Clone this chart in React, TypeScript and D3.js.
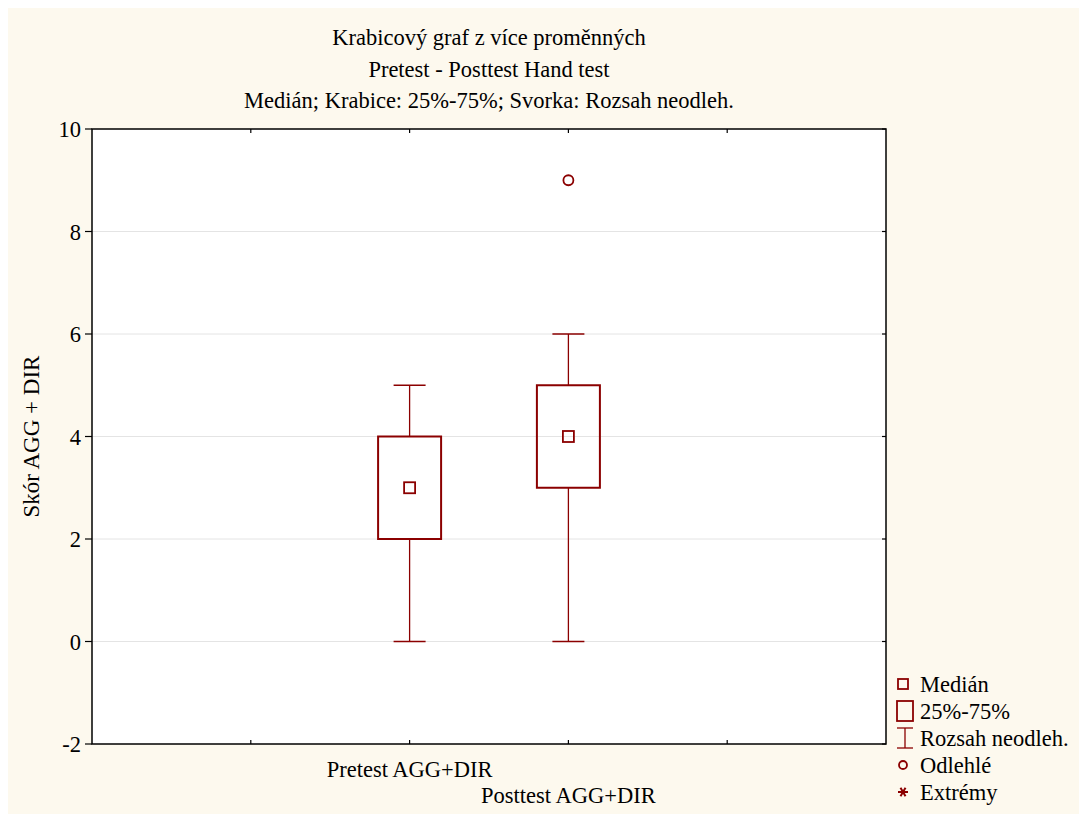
import React, { useEffect, useRef } from 'react';
import * as d3 from 'd3';

// chart data
const titleLines = [
  'Krabicový graf z více proměnných',
  'Pretest - Posttest Hand test',
  'Medián; Krabice: 25%-75%; Svorka: Rozsah neodleh.',
];
const categories = ['Pretest AGG+DIR', 'Posttest AGG+DIR'];
const medians = [3, 4];
const q1 = [2, 3];
const q3 = [4, 5];
const whiskerLow = [0, 0];
const whiskerHigh = [5, 6];
const outliers = [[], [9]] as number[][];
const yTicks = [-2, 0, 2, 4, 6, 8, 10];
const legendLabels = ['Medián', '25%-75%', 'Rozsah neodleh.', 'Odlehlé', 'Extrémy'];

const W = 1079;
const H = 806;
const RED = '#8b0000';
const FONT = '"Liberation Serif", "Times New Roman", serif';
const FS = '22.5px';

const App: React.FC = () => {
  const svgRef = useRef<SVGSVGElement>(null);

  useEffect(() => {
    if (!svgRef.current) return;
    const svg = d3.select(svgRef.current);
    svg.selectAll('*').remove();

    svg.append('rect').attr('width', W).attr('height', H).attr('fill', '#fdf9ee');

    const m = { left: 84, right: 878, top: 121, bottom: 736 };
    const x = d3.scaleLinear().domain([0, 5]).range([m.left, m.right]);
    const y = d3.scaleLinear().domain([-2, 10]).range([m.bottom, m.top]);
    const catX = (i: number) => x(i + 2);

    // titles
    svg.selectAll('.title')
      .data(titleLines)
      .enter()
      .append('text')
      .attr('x', x(2.5))
      .attr('y', (_, i) => 37 + i * 31.5)
      .attr('text-anchor', 'middle')
      .attr('font-family', FONT)
      .attr('font-size', FS)
      .attr('fill', '#000')
      .text(d => d);

    // plot area
    svg.append('rect')
      .attr('x', m.left).attr('y', m.top)
      .attr('width', m.right - m.left).attr('height', m.bottom - m.top)
      .attr('fill', '#fff');

    // grid
    svg.selectAll('.grid')
      .data(yTicks.filter(t => t > -2 && t < 10))
      .enter()
      .append('line')
      .attr('x1', m.left).attr('x2', m.right)
      .attr('y1', d => y(d)).attr('y2', d => y(d))
      .attr('stroke', '#e4e4e4').attr('stroke-width', 1);

    // frame
    svg.append('rect')
      .attr('x', m.left).attr('y', m.top)
      .attr('width', m.right - m.left).attr('height', m.bottom - m.top)
      .attr('fill', 'none').attr('stroke', '#000').attr('stroke-width', 1.5);

    // y ticks left (outward) and right (inward)
    yTicks.forEach(t => {
      svg.append('line').attr('x1', m.left - 7).attr('x2', m.left)
        .attr('y1', y(t)).attr('y2', y(t)).attr('stroke', '#000').attr('stroke-width', 1.2);
      svg.append('line').attr('x1', m.right - 4).attr('x2', m.right)
        .attr('y1', y(t)).attr('y2', y(t)).attr('stroke', '#000').attr('stroke-width', 1.2);
      svg.append('text')
        .attr('x', m.left - 11).attr('y', y(t) + 8)
        .attr('text-anchor', 'end')
        .attr('font-family', FONT).attr('font-size', FS)
        .text(t);
    });

    // x ticks top and bottom (inward)
    d3.range(1, 5).forEach(v => {
      svg.append('line').attr('x1', x(v)).attr('x2', x(v))
        .attr('y1', m.top).attr('y2', m.top + 4).attr('stroke', '#000').attr('stroke-width', 1.2);
      svg.append('line').attr('x1', x(v)).attr('x2', x(v))
        .attr('y1', m.bottom).attr('y2', m.bottom - 4).attr('stroke', '#000').attr('stroke-width', 1.2);
    });

    // x labels, staggered
    categories.forEach((c, i) => {
      svg.append('text')
        .attr('x', catX(i)).attr('y', 769 + i * 26)
        .attr('text-anchor', 'middle')
        .attr('font-family', FONT).attr('font-size', FS)
        .text(c);
    });

    // y label
    svg.append('text')
      .attr('transform', `translate(${31},${(m.top + m.bottom) / 2}) rotate(-90)`)
      .attr('text-anchor', 'middle')
      .attr('font-family', FONT).attr('font-size', '23px')
      .text('Skór AGG + DIR');

    // boxes
    const boxW = 63;
    const capW = 32;
    categories.forEach((_, i) => {
      const cx = catX(i);
      const g = svg.append('g');
      // whiskers
      g.append('line').attr('x1', cx).attr('x2', cx)
        .attr('y1', y(q3[i])).attr('y2', y(whiskerHigh[i]))
        .attr('stroke', RED).attr('stroke-width', 1.3);
      g.append('line').attr('x1', cx).attr('x2', cx)
        .attr('y1', y(q1[i])).attr('y2', y(whiskerLow[i]))
        .attr('stroke', RED).attr('stroke-width', 1.3);
      [whiskerHigh[i], whiskerLow[i]].forEach(v => {
        g.append('line').attr('x1', cx - capW / 2).attr('x2', cx + capW / 2)
          .attr('y1', y(v)).attr('y2', y(v))
          .attr('stroke', RED).attr('stroke-width', 1.3);
      });
      // box
      g.append('rect')
        .attr('x', cx - boxW / 2).attr('y', y(q3[i]))
        .attr('width', boxW).attr('height', y(q1[i]) - y(q3[i]))
        .attr('fill', 'none').attr('stroke', RED).attr('stroke-width', 2);
      // median
      g.append('rect')
        .attr('x', cx - 5.5).attr('y', y(medians[i]) - 5.5)
        .attr('width', 11).attr('height', 11)
        .attr('fill', 'none').attr('stroke', RED).attr('stroke-width', 1.8);
      // outliers
      outliers[i].forEach(o => {
        g.append('circle').attr('cx', cx).attr('cy', y(o)).attr('r', 5)
          .attr('fill', 'none').attr('stroke', RED).attr('stroke-width', 1.8);
      });
    });

    // legend
    const lx = 889;
    const ly = (i: number) => 676 + i * 27;
    const lg = svg.append('g');
    legendLabels.forEach((l, i) => {
      lg.append('text').attr('x', lx + 23).attr('y', ly(i) + 8)
        .attr('font-family', FONT).attr('font-size', FS).text(l);
    });
    // median symbol
    lg.append('rect').attr('x', lx + 1).attr('y', ly(0) - 5).attr('width', 10).attr('height', 10)
      .attr('fill', 'none').attr('stroke', RED).attr('stroke-width', 1.8);
    // box symbol
    lg.append('rect').attr('x', lx).attr('y', ly(1) - 10).attr('width', 16).attr('height', 20)
      .attr('fill', 'none').attr('stroke', RED).attr('stroke-width', 1.8);
    // whisker symbol
    lg.append('line').attr('x1', lx + 8).attr('x2', lx + 8).attr('y1', ly(2) - 10).attr('y2', ly(2) + 10)
      .attr('stroke', RED).attr('stroke-width', 1.3);
    lg.append('line').attr('x1', lx).attr('x2', lx + 16).attr('y1', ly(2) - 10).attr('y2', ly(2) - 10)
      .attr('stroke', RED).attr('stroke-width', 1.3);
    lg.append('line').attr('x1', lx).attr('x2', lx + 16).attr('y1', ly(2) + 10).attr('y2', ly(2) + 10)
      .attr('stroke', RED).attr('stroke-width', 1.3);
    // outlier symbol
    lg.append('circle').attr('cx', lx + 6).attr('cy', ly(3)).attr('r', 4)
      .attr('fill', 'none').attr('stroke', RED).attr('stroke-width', 1.8);
    // extreme symbol (asterisk)
    const ex = lx + 6, ey = ly(4);
    [0, 60, 120].forEach(a => {
      const r = (a * Math.PI) / 180;
      lg.append('line')
        .attr('x1', ex - 5 * Math.cos(r)).attr('y1', ey - 5 * Math.sin(r))
        .attr('x2', ex + 5 * Math.cos(r)).attr('y2', ey + 5 * Math.sin(r))
        .attr('stroke', RED).attr('stroke-width', 2);
    });
  }, []);

  return <svg ref={svgRef} width={W} height={H} style={{ display: 'block' }} />;
};

export default App;
